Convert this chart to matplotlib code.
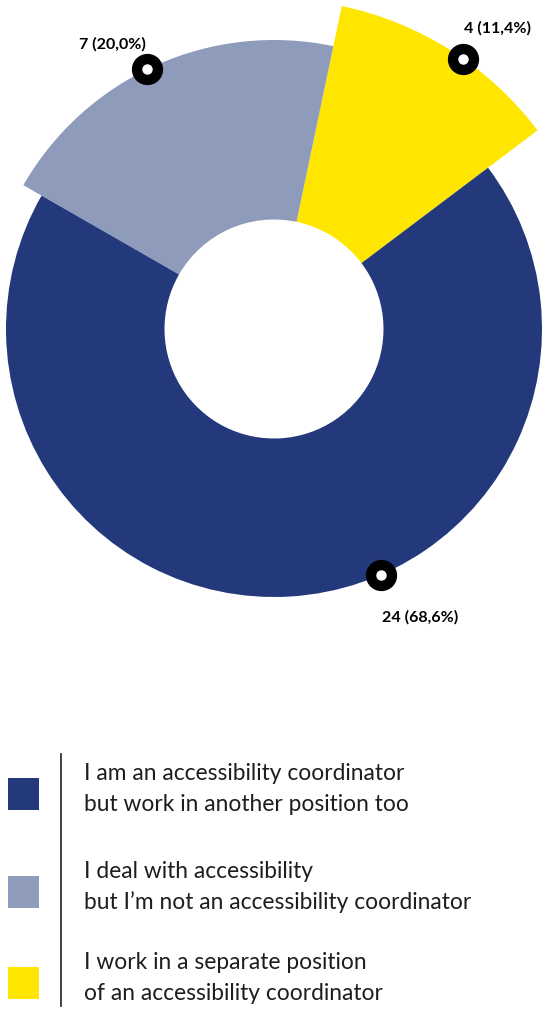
import numpy as np
import matplotlib
matplotlib.use("Agg")
import matplotlib.pyplot as plt
from matplotlib.patches import Rectangle

plt.rcParams['font.family'] = ['Lato', 'DejaVu Sans']

# data (counter-clockwise order in the donut)
counts = [4, 7, 24]
value_labels = ['4 (11,4%)', '7 (20,0%)', '24 (68,6%)']
colors = ['#ffe600', '#8f9bbb', '#24397b']

legend_labels = [
    'I am an accessibility coordinator\nbut work in another position too',
    'I deal with accessibility\nbut I\u2019m not an accessibility coordinator',
    'I work in a separate position\nof an accessibility coordinator',
]
legend_colors = ['#24397b', '#8f9bbb', '#ffe600']

# layout (pixel units, y up)
W, H = 547, 1012
cx, cy = 274, H - 330
r_inner = 109.5
r_outer = [330, 289, 268]
marker_ang = [55, 116, -66.5]
label_off = [(34, 31), (-35, 26), (39, -42)]

fig = plt.figure(figsize=(W / 100, H / 100), dpi=100)
ax = fig.add_axes([0, 0, 1, 1])

wedges, _ = ax.pie(counts, colors=colors, startangle=37, counterclock=True,
                   center=(cx, cy), radius=1)
for w, r in zip(wedges, r_outer):
    w.set_radius(r)
    w.set_width(r - r_inner)
    w.set_linewidth(0)

for ang, r, lab, off in zip(marker_ang, r_outer, value_labels, label_off):
    t = np.deg2rad(ang)
    mx, my = cx + r * np.cos(t), cy + r * np.sin(t)
    ax.plot(mx, my, 'o', color='black', ms=21.5, zorder=5)
    ax.plot(mx, my, 'o', color='white', ms=6.5, zorder=6)
    ax.text(mx + off[0], my + off[1], lab, ha='center', va='center',
            fontsize=11.5, fontweight='bold', color='black')

# legend
sq_y = [H - 795, H - 893, H - 984]
for y, col, lab in zip(sq_y, legend_colors, legend_labels):
    ax.add_patch(Rectangle((8, y - 16), 31, 32, color=col, lw=0))
    ax.text(84.5, y + 6, lab, ha='left', va='center', fontsize=16.4,
            color='#1e1e1e', linespacing=1.53)
ax.plot([61, 61], [H - 755, H - 1007], color='#333333', lw=1.3)

ax.set_xlim(0, W)
ax.set_ylim(0, H)
ax.set_aspect('equal')
ax.axis('off')

plt.savefig('out.png', dpi=100)
